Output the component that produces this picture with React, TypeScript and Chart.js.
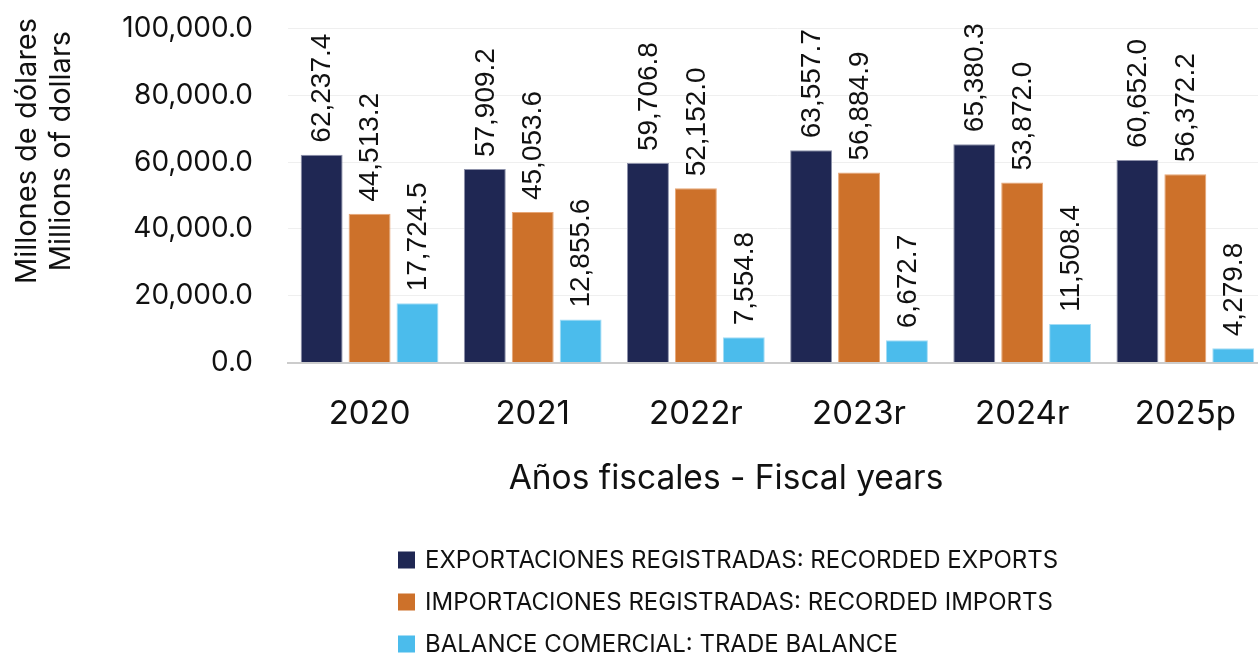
import React, { useEffect, useRef } from "react";
import { Chart, registerables } from "chart.js";

Chart.register(...registerables);

const categories = ["2020", "2021", "2022r", "2023r", "2024r", "2025p"];
const exportsValues = [62237.4, 57909.2, 59706.8, 63557.7, 65380.3, 60652.0];
const importsValues = [44513.2, 45053.6, 52152.0, 56884.9, 53872.0, 56372.2];
const balanceValues = [17724.5, 12855.6, 7554.8, 6672.7, 11508.4, 4279.8];
const seriesLabels = [
  "EXPORTACIONES REGISTRADAS: RECORDED EXPORTS",
  "IMPORTACIONES REGISTRADAS: RECORDED IMPORTS",
  "BALANCE COMERCIAL: TRADE BALANCE",
];
const seriesColors = ["#1f2753", "#cd712a", "#4bbcec"];
const seriesBorders = ["#8d91aa", "#e7a676", "#a3dcf5"];
const yTitleLines = ["Millones de dólares", "Millions of dollars"];
const xTitle = "Años fiscales - Fiscal years";

const MAIN_FONT = "Inter, 'Noto Sans', sans-serif";
const LABEL_FONT = "'Liberation Sans', Arial, sans-serif";

const fmt = (v: number) =>
  v.toLocaleString("en-US", { minimumFractionDigits: 1, maximumFractionDigits: 1 });

const decorPlugin = {
  id: "decor",
  afterDatasetsDraw(chart: any) {
    const ctx = chart.ctx;
    ctx.save();
    ctx.fillStyle = "#111";
    ctx.font = `28px ${LABEL_FONT}`;
    ctx.textAlign = "left";
    ctx.textBaseline = "middle";
    chart.data.datasets.forEach((ds: any, di: number) => {
      const meta = chart.getDatasetMeta(di);
      meta.data.forEach((el: any, i: number) => {
        ctx.save();
        ctx.translate(el.x + 1, el.y - 12);
        ctx.rotate(-Math.PI / 2);
        ctx.fillText(fmt(ds.data[i]), 0, 0);
        ctx.restore();
      });
    });
    ctx.restore();
  },
  afterDraw(chart: any) {
    const ctx = chart.ctx;
    ctx.save();
    ctx.fillStyle = "#111";
    // y title
    ctx.font = `29px ${MAIN_FONT}`;
    ctx.textAlign = "center";
    ctx.textBaseline = "middle";
    const xs = [27, 61];
    yTitleLines.forEach((t, i) => {
      ctx.save();
      ctx.translate(xs[i], 151);
      ctx.rotate(-Math.PI / 2);
      ctx.fillText(t, 0, 0);
      ctx.restore();
    });
    // x title
    ctx.font = `33.5px ${MAIN_FONT}`;
    ctx.textAlign = "center";
    ctx.textBaseline = "middle";
    ctx.fillText(xTitle, 726, 479);
    // legend
    const rows = [560, 602, 644];
    ctx.font = `24px ${MAIN_FONT}`;
    ctx.textAlign = "left";
    chart.data.datasets.forEach((ds: any, di: number) => {
      ctx.fillStyle = ds.backgroundColor;
      ctx.fillRect(398, rows[di] - 8.5, 17, 17);
      ctx.fillStyle = "#111";
      ctx.fillText(ds.label, 425, rows[di] + 1);
    });
    ctx.restore();
  },
};

export default function App() {
  const ref = useRef<HTMLCanvasElement>(null);
  useEffect(() => {
    if (!ref.current) return;
    const chart = new Chart(ref.current, {
      type: "bar",
      data: {
        labels: categories,
        datasets: [exportsValues, importsValues, balanceValues].map((d, i) => ({
          label: seriesLabels[i],
          data: d,
          backgroundColor: seriesColors[i],
          borderColor: seriesBorders[i],
          borderWidth: 1,
          barPercentage: 0.875,
          categoryPercentage: 0.881,
        })),
      },
      options: {
        animation: false,
        responsive: true,
        maintainAspectRatio: false,
        layout: { padding: { top: 28.5, right: 0, bottom: 0, left: 0 } },
        plugins: {
          legend: { display: false },
          tooltip: { enabled: false },
        },
        scales: {
          x: {
            grid: { display: true, color: "rgba(0,0,0,0)", drawTicks: false },
            border: { display: true, color: "#cccccc", width: 2 },
            ticks: {
              color: "#111",
              font: { family: MAIN_FONT, size: 33 },
              padding: 32,
            },
            afterFit(scale: any) {
              scale.height = 292.5;
            },
          },
          y: {
            min: 0,
            max: 100000,
            grid: { color: "#efefef", lineWidth: 1, drawTicks: false },
            border: { display: false },
            ticks: {
              stepSize: 20000,
              color: "#111",
              font: { family: MAIN_FONT, size: 28 },
              padding: 35,
              callback: (v: any) => fmt(Number(v)),
            },
            afterFit(scale: any) {
              scale.width = 288;
              scale.paddingTop = 0;
              scale.paddingBottom = 0;
            },
          },
        },
      },
      plugins: [decorPlugin],
    });
    return () => chart.destroy();
  }, []);
  return (
    <div
      style={{
        position: "absolute",
        left: 0,
        top: 0,
        width: 1258,
        height: 655,
        overflow: "hidden",
        background: "#fff",
      }}
    >
      <div style={{ position: "relative", width: 1268, height: 655 }}>
        <canvas ref={ref} />
      </div>
    </div>
  );
}
